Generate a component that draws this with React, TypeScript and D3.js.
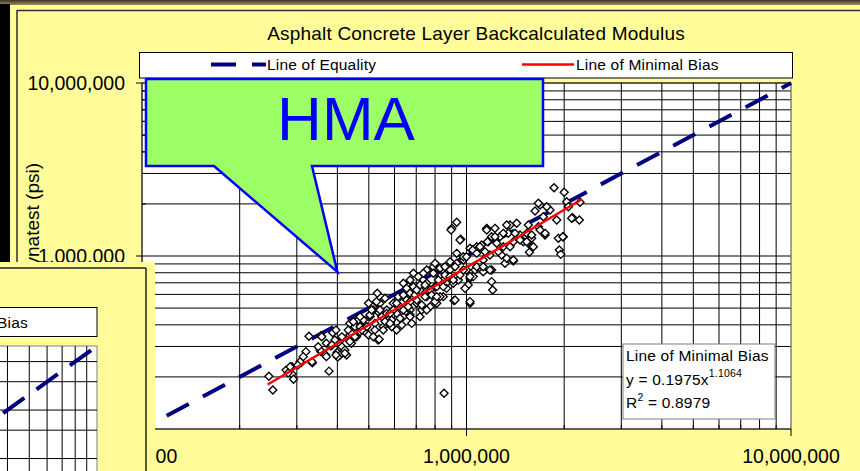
import React from "react";
import * as d3 from "d3";

const chartTitle = "Asphalt Concrete Layer Backcalculated Modulus";
const yAxisTitle = "Backcalculated Modulus, Dynatest (psi)";
const majorTicks = [1e5, 1e6, 1e7];
const majorTickLabels = ["100,000", "1,000,000", "10,000,000"];
const legendLabels = ["Line of Equality", "Line of Minimal Bias"];
const fitTitle = "Line of Minimal Bias";
const fitEquation = ["y = 0.1975x", "1.1064"];
const fitR2 = ["R", "2", " = 0.8979"];
const calloutText = "HMA";
const calloutTip = [400000, 810000];
const equalityEnds = [1e5, 1e7];
const minBiasX = [244000, 2270000];
const minBiasY = [180700, 2128000];
const insetHGrid = [8e6, 6e6, 4e6, 3e6, 2e6];

// scatter values in ksi (x: backcalculated, y: Dynatest)
const xKsi = [
  246, 253, 278, 290, 293, 309, 320, 327, 335, 356,
  356, 377, 370, 387, 382, 393, 399, 413, 422, 427,
  408, 437, 442, 453, 458, 290, 401, 396, 437, 470,
  464, 282, 307, 334, 358, 354, 368, 385, 415, 422,
  437, 442, 453, 470, 481, 487, 504, 522, 534, 531,
  531, 548, 554, 568, 574, 588, 595, 609, 624, 632,
  639, 654, 670, 678, 654, 686, 702, 719, 728, 736,
  754, 772, 790, 800, 810, 829, 848, 853, 868, 890,
  901, 933, 915, 933, 944, 960, 978, 1000, 1025, 1012,
  896, 955, 1025, 1075, 978, 890, 933, 800, 829, 858,
  790, 754, 736, 710, 686, 670, 639, 654, 686, 719,
  754, 772, 810, 848, 868, 911, 955, 989, 1025, 922,
  1025, 829, 800, 745, 728, 702, 670, 624, 609, 595,
  639, 670, 624, 588, 568, 541, 534, 516, 504, 561,
  554, 522, 493, 499, 538, 516, 476, 670, 694, 1861,
  2000, 2036, 2238, 2124, 2227, 1988, 1918, 1932, 1952, 1897,
  1809, 1685, 1626, 1725, 1746, 1665, 1588, 1588, 1562, 1551,
  1533, 1462, 1497, 1394, 1394, 1362, 1345, 1314, 1283, 1298,
  1268, 1224, 1239, 1195, 1154, 1167, 1181, 1140, 1113, 1075,
  1062, 1195, 1126, 1195, 1204, 1049, 1330, 1428, 1298, 1462,
  1533, 1126, 1075, 1181, 1253, 1330, 1100, 1045, 1160, 1154,
  1362, 1607, 1588, 1746, 2060, 2109, 1980, 1665, 1767, 1685,
  1224, 1411, 1394, 528, 561, 581, 616, 639, 661, 702,
  745, 781, 819, 858, 890, 922, 978, 470, 448, 432,
  413, 396, 510, 499, 541, 581, 609, 670, 719, 754,
  810, 848, 911, 1000, 1075, 1126, 1025, 370, 349, 314,
  302, 286,
];
const yKsi = [
  202, 168, 219, 208, 194, 241, 280, 344, 241, 346,
  280, 216, 313, 360, 302, 327, 277, 299, 286, 268,
  268, 349, 313, 390, 341, 229, 261, 268, 320, 365,
  427, 211, 245, 245, 341, 286, 268, 306, 334, 274,
  408, 357, 341, 390, 427, 365, 446, 408, 327, 609,
  533, 446, 390, 487, 427, 390, 533, 466, 509, 399,
  446, 557, 487, 408, 680, 582, 533, 636, 487, 727,
  582, 509, 867, 665, 533, 760, 582, 161, 696, 830,
  1445, 1566, 552, 1036, 727, 1249, 948, 830, 533, 680,
  1413, 1237, 1108, 1132, 990, 927, 907, 907, 849, 867,
  795, 830, 795, 760, 795, 727, 696, 650, 665, 680,
  696, 636, 665, 727, 650, 696, 777, 650, 744, 557,
  545, 582, 545, 582, 521, 557, 545, 582, 533, 487,
  487, 456, 437, 427, 466, 533, 476, 487, 456, 418,
  373, 373, 390, 349, 330, 341, 373, 609, 595, 2480,
  2335, 2061, 2045, 1665, 1615, 1293, 1265, 1083, 1022, 1615,
  1845, 1972, 1821, 1687, 1322, 1477, 1265, 1132, 1050, 1511,
  1352, 1322, 1209, 935, 1209, 1511, 1352, 907, 1013, 1132,
  1293, 1445, 1184, 1293, 1445, 1209, 1013, 1059, 1158, 1083,
  830, 830, 811, 711, 636, 760, 1511, 1546, 1352, 1237,
  1209, 948, 867, 830, 1059, 970, 1132, 1083, 1209, 1413,
  1132, 1132, 1322, 1352, 1928, 1652, 1293, 2016, 1928, 1413,
  1293, 1352, 948, 545, 570, 466, 582, 595, 509, 636,
  680, 595, 727, 777, 760, 867, 830, 446, 417, 373,
  341, 373, 487, 533, 487, 408, 373, 446, 446, 487,
  582, 665, 727, 990, 1036, 867, 760, 262, 299, 262,
  234, 229,
];

const FONT = "'Liberation Sans', Arial, Helvetica, sans-serif";
const YELLOW = "#FFFC99";
const NAVY = "#000080";

export default function App() {
  const x = d3.scaleLog().domain([1e5, 1e7]).range([142, 791]);
  const y = d3.scaleLog().domain([1e5, 1e7]).range([429, 83]);
  const gridVals = x.ticks();
  const minorVals = gridVals.filter((v) => !majorTicks.includes(v));

  const points = xKsi.map((v, i) => ({ x: v * 1000, y: yKsi[i] * 1000 }));
  const line = d3
    .line<[number, number]>()
    .x((d) => x(d[0]))
    .y((d) => y(d[1]));
  const eqPath = line(equalityEnds.map((v) => [v, v] as [number, number])) || "";
  const biasPath =
    line(minBiasX.map((v, i) => [v, minBiasY[i]] as [number, number])) || "";

  const diamond = "M0,-4L4,0L0,4L-4,0Z";

  const tipX = x(calloutTip[0]);
  const tipY = y(calloutTip[1]);
  const callout = `M146,79H543V166H312L${tipX},${tipY}L214,166H146Z`;

  // inset (partially visible neighbouring chart)
  const xi = d3.scaleLog().domain([1e5, 1e7]).range([97 - 450, 97]);
  const yi = d3.scaleLog().domain([1e5, 1e7]).range([346 + 322, 346]);
  const insetV = xi.ticks().filter((v) => xi(v) > 0 && xi(v) < 96);
  const insetLine = d3
    .line<[number, number]>()
    .x((d) => xi(d[0]))
    .y((d) => yi(d[1]));
  const insetEq =
    insetLine(equalityEnds.map((v) => [v, v] as [number, number])) || "";

  return (
    <svg
      width={860}
      height={471}
      style={{ position: "absolute", left: 0, top: 0, display: "block" }}
      fontFamily={FONT}
    >
      <defs>
        <linearGradient id="topBar" x1="0" y1="0" x2="0" y2="1">
          <stop offset="0" stopColor="#3f3320" />
          <stop offset="1" stopColor="#a09060" />
        </linearGradient>
      </defs>
      <rect x={0} y={0} width={860} height={471} fill={YELLOW} />
      <rect x={0} y={0} width={860} height={5} fill="url(#topBar)" />
      <rect x={0} y={4} width={10} height={260} fill="#000" />
      <line x1={17} y1={10.5} x2={860} y2={10.5} stroke="#2e2e2e" strokeWidth={1.5} />
      <line x1={17} y1={10} x2={17} y2={471} stroke="#2e2e2e" strokeWidth={1.5} />

      {/* title */}
      <text x={476} y={40} textAnchor="middle" fontSize={19} letterSpacing={0.2} fill="#000">
        {chartTitle}
      </text>

      {/* plot area */}
      <rect x={142} y={83} width={649} height={346} fill="#fff" stroke="#808080" />
      {gridVals
        .filter((v) => v > 1e5)
        .map((v, i) => (
          <line key={"h" + i} x1={142} x2={791} y1={y(v)} y2={y(v)} stroke="#000" strokeWidth={1} />
        ))}
      {gridVals
        .filter((v) => v > 1e5 && v < 1e7)
        .map((v, i) => (
          <line key={"v" + i} x1={x(v)} x2={x(v)} y1={83} y2={429} stroke="#000" strokeWidth={1} />
        ))}
      <line x1={791} x2={791} y1={83} y2={429} stroke="#808080" />

      {/* axes */}
      <line x1={142} x2={142} y1={83} y2={429} stroke="#000" />
      <line x1={142} x2={791} y1={429} y2={429} stroke="#000" />
      {majorTicks.map((v, i) => (
        <g key={"mt" + i}>
          <line x1={136} x2={142} y1={y(v)} y2={y(v)} stroke="#000" />
          <line x1={x(v)} x2={x(v)} y1={429} y2={436} stroke="#000" />
        </g>
      ))}
      {minorVals.map((v, i) => (
        <g key={"mn" + i}>
          <line x1={142} x2={146} y1={y(v)} y2={y(v)} stroke="#000" />
          <line x1={x(v)} x2={x(v)} y1={425} y2={429} stroke="#000" />
        </g>
      ))}
      {majorTicks.map((v, i) => (
        <text key={"yl" + i} x={125} y={y(v) + 7} textAnchor="end" fontSize={19.5} fill="#000">
          {majorTickLabels[i]}
        </text>
      ))}
      {majorTicks.map((v, i) => (
        <text key={"xl" + i} x={x(v)} y={463} textAnchor="middle" fontSize={19.5} fill="#000">
          {majorTickLabels[i]}
        </text>
      ))}
      <text
        transform="translate(39,163) rotate(-90)"
        textAnchor="end"
        fontSize={19}
        fill="#000"
      >
        {yAxisTitle}
      </text>

      {/* equality line */}
      <path
        d={eqPath}
        fill="none"
        stroke={NAVY}
        strokeWidth={4}
        strokeDasharray="25 16"
        strokeDashoffset={13}
      />

      {/* scatter */}
      {points.map((p, i) => (
        <path
          key={"p" + i}
          d={diamond}
          transform={`translate(${x(p.x)},${y(p.y)})`}
          fill="#fff"
          stroke="#000"
          strokeWidth={1.35}
        />
      ))}

      {/* minimal bias line */}
      <path d={biasPath} fill="none" stroke="#FF0000" strokeWidth={2.5} />

      {/* fit text box */}
      <rect x={623} y={344} width={152} height={75} fill="#fff" stroke="#7f7f7f" />
      <text x={626} y={361} fontSize={15.5} letterSpacing={0.2} fill="#000">
        {fitTitle}
      </text>
      <text x={626} y={385} fontSize={15.5} letterSpacing={0.2} fill="#000">
        {fitEquation[0]}
        <tspan fontSize={10.5} dy={-8}>
          {fitEquation[1]}
        </tspan>
      </text>
      <text x={626} y={408} fontSize={15.5} letterSpacing={0.2} fill="#000">
        {fitR2[0]}
        <tspan fontSize={10.5} dy={-7}>
          {fitR2[1]}
        </tspan>
        <tspan dy={7}>{fitR2[2]}</tspan>
      </text>

      {/* legend */}
      <rect x={139.5} y={52.5} width={653} height={25.5} fill="#fff" stroke="#000" />
      <line x1={211} x2={266} y1={64.5} y2={64.5} stroke={NAVY} strokeWidth={4} strokeDasharray="25 16" />
      <text x={267} y={69.5} fontSize={15.5} letterSpacing={0.2} fill="#000">
        {legendLabels[0]}
      </text>
      <line x1={522} x2={574} y1={64.5} y2={64.5} stroke="#FF0000" strokeWidth={2.5} />
      <text x={576} y={69.5} fontSize={15.5} letterSpacing={0.2} fill="#000">
        {legendLabels[1]}
      </text>

      {/* HMA callout */}
      <path d={callout} fill="#9CFF66" stroke="#0000FF" strokeWidth={2.5} strokeLinejoin="miter" />
      <text x={346} y={140} textAnchor="middle" fontSize={62} fill="#0000FF">
        {calloutText}
      </text>

      {/* inset neighbouring chart */}
      <rect x={0} y={262} width={155} height={209} fill={YELLOW} />
      <line x1={0} y1={268} x2={146} y2={268} stroke="#222" strokeWidth={1.5} />
      <line x1={146} y1={268} x2={146} y2={471} stroke="#222" strokeWidth={1.5} />
      <rect x={-10} y={307.5} width={107} height={29} fill="#fff" stroke="#000" />
      <text x={28} y={328} textAnchor="end" fontSize={15.5} letterSpacing={0.2} fill="#000">
        {legendLabels[1]}
      </text>
      <rect x={-10} y={346} width={107} height={140} fill="#fff" stroke="#808080" />
      {insetV.map((v, i) => (
        <line key={"iv" + i} x1={xi(v)} x2={xi(v)} y1={346} y2={471} stroke="#000" />
      ))}
      {insetHGrid.map((v, i) => (
        <line key={"ih" + i} x1={0} x2={97} y1={yi(v)} y2={yi(v)} stroke="#000" />
      ))}
      <path
        d={insetEq}
        fill="none"
        stroke={NAVY}
        strokeWidth={4}
        strokeDasharray="26 15"
        strokeDashoffset={13}
      />
    </svg>
  );
}
